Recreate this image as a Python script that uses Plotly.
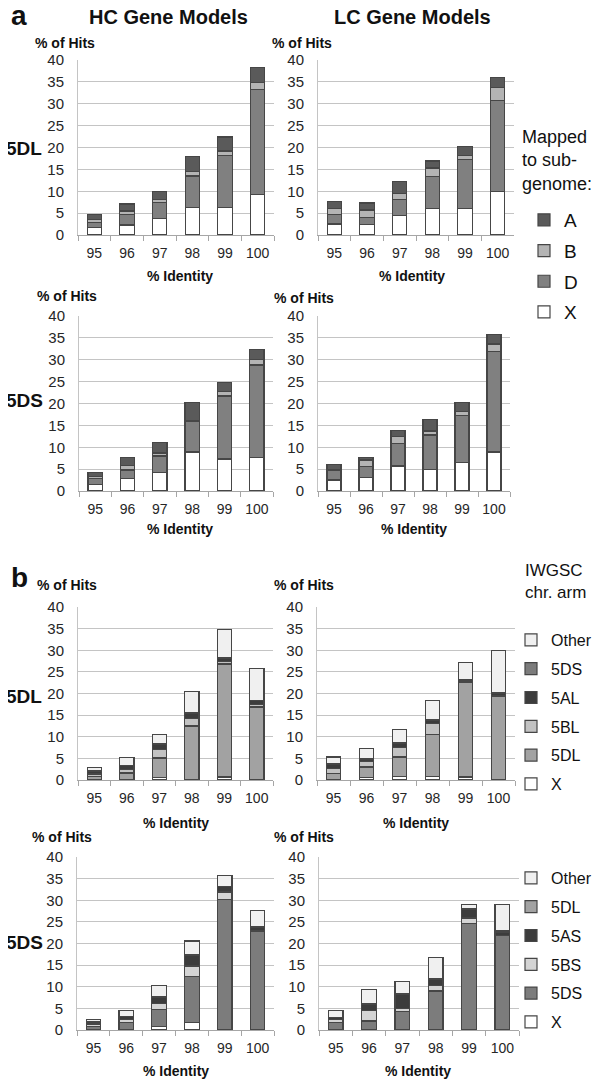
import plotly.graph_objects as go

# the page puts the figure 8px in from the top-left corner
OFF = 8
W, H = 600 - OFF, 1080 - OFF
identity = ["95", "96", "97", "98", "99", "100"]

# panel a: % of hits by sub-genome, stacked bottom to top X, D, B, A
hc_5dl_sub = {
    "X": [1.7, 2.3, 3.8, 6.3, 6.3, 9.3],
    "D": [1.1, 2.3, 3.6, 7.2, 11.9, 23.9],
    "B": [0.7, 0.9, 0.8, 1.0, 1.0, 1.7],
    "A": [1.2, 1.6, 1.7, 3.4, 3.2, 3.4],
}
lc_5dl_sub = {
    "X": [2.5, 2.4, 4.4, 6.1, 6.1, 9.9],
    "D": [2.1, 1.6, 3.8, 7.3, 11.1, 20.9],
    "B": [1.5, 1.7, 1.3, 1.9, 1.0, 3.0],
    "A": [1.5, 1.6, 2.7, 1.6, 2.0, 2.2],
}
hc_5ds_sub = {
    "X": [1.5, 2.9, 4.2, 8.9, 7.3, 7.6],
    "D": [1.4, 1.9, 3.8, 6.9, 14.4, 21.2],
    "B": [0.5, 1.1, 0.7, 0.4, 1.0, 1.3],
    "A": [0.9, 1.8, 2.3, 4.0, 2.1, 2.2],
}
lc_5ds_sub = {
    "X": [2.5, 3.1, 5.7, 5.0, 6.6, 8.9],
    "D": [2.1, 2.5, 5.2, 7.8, 10.7, 22.9],
    "B": [0.2, 1.5, 1.5, 0.9, 0.9, 1.8],
    "A": [1.2, 0.6, 1.4, 2.6, 2.1, 2.1],
}

# panel b: % of hits by IWGSC chromosome arm
hc_5dl_arm = {
    "X": [0.0, 0.1, 0.6, 0.1, 0.7, 0.0],
    "5DL": [0.9, 1.5, 4.5, 12.4, 26.1, 16.9],
    "5BL": [0.5, 0.8, 2.0, 1.8, 0.6, 0.6],
    "5AL": [0.5, 0.9, 1.1, 1.0, 0.8, 0.8],
    "5DS": [0.2, 0.1, 0.2, 0.2, 0.1, 0.1],
    "Other": [0.7, 1.8, 2.2, 4.9, 6.5, 7.4],
}
lc_5dl_arm = {
    "X": [0.0, 0.6, 0.8, 0.8, 0.7, 0.0],
    "5DL": [1.5, 2.4, 4.5, 9.8, 21.8, 19.4],
    "5BL": [1.1, 1.2, 2.2, 2.4, 0.2, 0.1],
    "5AL": [1.0, 0.6, 1.0, 0.8, 0.2, 0.5],
    "5DS": [0.2, 0.1, 0.1, 0.2, 0.3, 0.1],
    "Other": [1.5, 2.3, 3.1, 4.3, 4.0, 9.9],
}
hc_5ds_arm = {
    "X": [0.0, 0.0, 0.8, 1.8, 0.0, 0.0],
    "5DS": [0.9, 1.8, 4.0, 10.5, 30.2, 22.7],
    "5BS": [0.5, 0.7, 1.4, 2.5, 1.7, 0.3],
    "5AS": [0.4, 0.6, 1.3, 2.5, 1.2, 0.8],
    "5DL": [0.1, 0.1, 0.2, 0.2, 0.1, 0.2],
    "Other": [0.6, 1.3, 2.5, 3.1, 2.6, 3.7],
}
lc_5ds_arm = {
    "X": [0.0, 0.0, 0.0, 0.0, 0.0, 0.0],
    "5DS": [1.7, 2.1, 4.2, 9.0, 24.6, 21.8],
    "5BS": [0.8, 2.5, 0.8, 1.2, 1.3, 0.1],
    "5AS": [0.3, 1.4, 3.2, 1.5, 2.1, 0.6],
    "5DL": [0.1, 0.2, 0.2, 0.1, 0.1, 0.4],
    "Other": [1.7, 3.2, 2.8, 4.9, 0.9, 6.1],
}

colors = {
    "X": "#ffffff", "D": "#808080", "B": "#b4b4b4", "A": "#5a5a5a",
    "Other": "#f0f0f0", "5AL": "#3c3c3c", "5AS": "#3c3c3c",
    "5BL": "#c2c2c2", "5BS": "#d4d4d4",
    "5DL": "#a2a2a2", "5DS": "#7c7c7c",
}

FONT = "Liberation Sans, Arial, sans-serif"


def px(x):
    return (x - OFF) / W


def py(y):
    return 1 - (y - OFF) / H


# (data, x pixel range, y pixel range (top, bottom), legend)
panels = [
    (hc_5dl_sub, (78, 274), (60, 235), None),
    (lc_5dl_sub, (318, 514), (60, 235), "legend"),
    (hc_5ds_sub, (79, 273), (316, 491), None),
    (lc_5ds_sub, (318, 510), (316, 491), None),
    (hc_5dl_arm, (78, 273), (607, 780), None),
    (lc_5dl_arm, (317, 515), (607, 780), "legend2"),
    (hc_5ds_arm, (77, 274), (857, 1030), None),
    (lc_5ds_arm, (319, 519), (857, 1030), "legend3"),
]

fig = go.Figure()
layout = {}
for i, (data, (x0, x1), (y0, y1), leg) in enumerate(panels, start=1):
    sfx = "" if i == 1 else str(i)
    for j, (key, vals) in enumerate(data.items()):
        tr = dict(
            x=identity, y=vals, name=key,
            marker=dict(color=colors[key], line=dict(color="#464646", width=1.2)),
            xaxis="x" + sfx, yaxis="y" + sfx,
            showlegend=leg is not None,
            legendgroup=f"p{i}-{key}",
            legendrank=100 - j,
            hoverinfo="x+y+name",
        )
        if leg is not None:
            tr["legend"] = leg
        fig.add_trace(go.Bar(**tr))
    layout["xaxis" + sfx] = dict(
        domain=[px(x0), px(x1)], anchor="y" + sfx, type="category",
        showline=True, linecolor="#a6a6a6", linewidth=1,
        ticks="outside", tickson="boundaries", ticklen=5, tickcolor="#a6a6a6",
        tickangle=0, automargin=False, ticklabelstandoff=5,
        tickfont=dict(size=14, color="#262626", family=FONT),
        showgrid=False, fixedrange=True,
    )
    layout["yaxis" + sfx] = dict(
        domain=[py(y1), py(y0)], anchor="x" + sfx,
        range=[0, 40], dtick=5, showgrid=True, gridcolor="#c4c4c4", gridwidth=1,
        showline=True, linecolor="#c4c4c4", zeroline=False,
        ticks="", ticklabelstandoff=10, automargin=False,
        tickfont=dict(size=15, color="#262626", family=FONT),
        fixedrange=True,
    )

annotations = []


def ann(text, x, y, size, bold=True, xanchor="center", yanchor="middle", align="center"):
    if bold:
        text = "<b>" + text + "</b>"
    annotations.append(dict(
        text=text, x=px(x), y=py(y), xref="paper", yref="paper",
        xanchor=xanchor, yanchor=yanchor, align=align, showarrow=False,
        font=dict(size=size, color="#111111", family=FONT),
    ))


ann("a", 9, 15, 28, xanchor="left")
ann("b", 9, 577, 28, xanchor="left")
ann("HC Gene Models", 168, 17, 20)
ann("LC Gene Models", 412, 17, 20)

for xl, yl in [(33, 43), (270, 43), (35, 296), (272, 298), (35, 585), (272, 585), (30, 837), (272, 837)]:
    ann("% of Hits", xl, yl, 14, xanchor="left")

for xc, yc in [(180, 276), (412, 276), (180, 529), (414, 529),
               (176, 823), (416, 823), (176, 1071), (418, 1071)]:
    ann("% Identity", xc, yc, 14)

ann("5DL", 24, 148, 19)
ann("5DS", 24, 400, 19)
ann("5DL", 24, 696, 19)
ann("5DS", 24, 942, 19)

ann("Mapped<br>to sub-<br>genome:", 520, 161, 18, bold=False, xanchor="left", align="left")
ann("IWGSC<br>chr. arm", 523, 581, 17, bold=False, xanchor="left", align="left")

legend_style = dict(
    xanchor="left", yanchor="top", bgcolor="rgba(0,0,0,0)",
    traceorder="grouped", itemclick=False, itemdoubleclick=False,
)
layout["legend"] = dict(x=px(524), y=py(201), font=dict(size=19, family=FONT, color="#111111"),
                        tracegroupgap=3, **legend_style)
layout["legend2"] = dict(x=px(511), y=py(623), font=dict(size=16, family=FONT, color="#111111"),
                         tracegroupgap=5, **legend_style)
layout["legend3"] = dict(x=px(511), y=py(861), font=dict(size=16, family=FONT, color="#111111"),
                         tracegroupgap=5, **legend_style)

fig.update_layout(
    width=W, height=H, margin=dict(l=0, r=0, t=0, b=0, autoexpand=False),
    barmode="stack", bargap=0.56,
    plot_bgcolor="white", paper_bgcolor="white",
    font=dict(family=FONT),
    annotations=annotations,
    **layout,
)

fig.write_html("out.html")
